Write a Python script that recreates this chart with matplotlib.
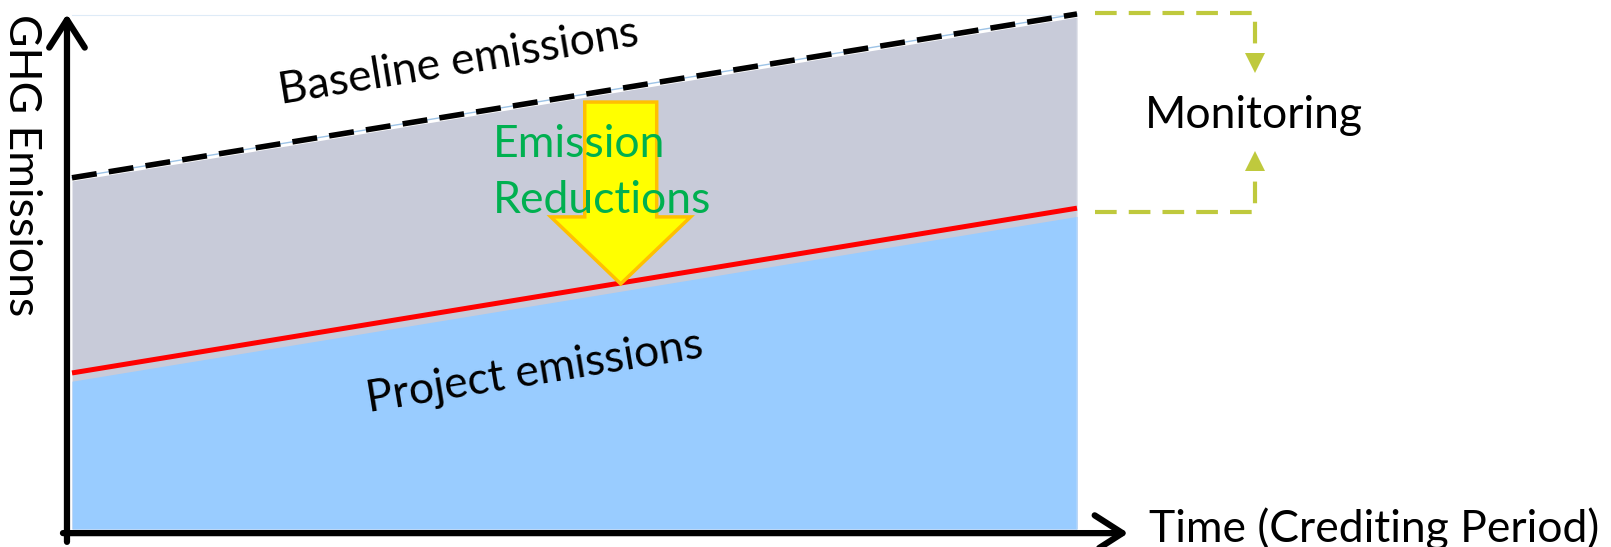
import matplotlib.pyplot as plt
from matplotlib.patches import FancyArrow

# Conceptual data: crediting period (normalised) and emission levels
period = [0.0, 1.0]
baseline = [68.2, 100.0]
project = [30.3, 62.3]

gray = '#C8CBD9'
blue = '#99CCFF'
green_txt = '#00B050'
green_dash = '#BFC93D'
font = 'Lato'
fs = 32

fig = plt.figure(figsize=(16.11, 5.47), dpi=100)
ax = fig.add_axes([72 / 1611, 18 / 547, 1005 / 1611, 515 / 547])
ax.set_xlim(0, 1)
ax.set_ylim(0, 100)
ax.axis('off')

# faint plot-area border at the top
ax.plot([0, 1], [99.8, 99.8], color='#DEEBF7', lw=0.8, clip_on=False)

# filled areas
ax.fill_between(period, 0, [b - 0.6 for b in baseline], color=gray, lw=0, zorder=1)
ax.fill_between(period, 0, [p - 1.6 for p in project], color=blue, lw=0, zorder=2)
ax.plot([1, 1], [0, baseline[1] - 0.6], color='#EEF4FA', lw=1, zorder=2)

# baseline (dashed) and project (red) lines
ax.plot(period, baseline, color='#9DC3E6', lw=1, zorder=3, clip_on=False)
ax.plot(period, baseline, color='black', lw=4, dashes=(4.5, 2.2),
        zorder=4, clip_on=False)
ax.plot(period, project, color='#FF0000', lw=3.6, zorder=4, clip_on=False,
        solid_capstyle='butt')

# emission reduction arrow
arr = FancyArrow(0.546, 82.9, 0, -35.3, width=0.0716, head_width=0.139,
                 head_length=13.0, length_includes_head=True,
                 facecolor='#FFFF00', edgecolor='#FFC000', lw=2.5, zorder=5)
ax.add_patch(arr)
ax.text(0.419, 72.2, 'Emission', color=green_txt, fontsize=fs, family=font,
        ha='left', va='baseline', zorder=6)
ax.text(0.419, 61.4, 'Reductions', color=green_txt, fontsize=fs, family=font,
        ha='left', va='baseline', zorder=6)

# labels on the areas
ax.text(0.385, 90.7, 'Baseline emissions', fontsize=fs, family=font,
        rotation=9.3, rotation_mode='anchor', ha='center', va='center')
ax.text(0.46, 30.5, 'Project emissions', fontsize=fs, family=font,
        rotation=9.3, rotation_mode='anchor', ha='center', va='center', zorder=6)

# monitoring bracket
ax.plot([1.018, 1.177, 1.177], [100.2, 100.2, 92.0], color=green_dash, lw=3,
        dashes=(5.2, 2.9), clip_on=False)
ax.plot([1.018, 1.177, 1.177], [61.6, 61.6, 70.0], color=green_dash, lw=3,
        dashes=(5.2, 2.9), clip_on=False)
ax.plot([1.177], [90.4], marker='v', ms=15, color=green_dash, mew=0, clip_on=False)
ax.plot([1.177], [71.5], marker='^', ms=15, color=green_dash, mew=0, clip_on=False)
ax.text(1.068, 77.9, 'Monitoring', fontsize=fs, family=font, ha='left', va='baseline')

# axes arrows
style = '->,head_length=0.5,head_width=0.32'
ax.annotate('', xy=(-0.005, 100.0), xytext=(-0.005, -2.5), annotation_clip=False,
            arrowprops=dict(arrowstyle=style, lw=4.5, color='black',
                            mutation_scale=40, shrinkA=0, shrinkB=0))
ax.annotate('', xy=(1.051, -0.8), xytext=(-0.009, -0.8), annotation_clip=False,
            arrowprops=dict(arrowstyle=style, lw=4.5, color='black',
                            mutation_scale=40, shrinkA=0, shrinkB=0))
ax.text(1.072, -2.5, 'Time (Crediting Period)', fontsize=fs, family=font,
        ha='left', va='baseline')
ax.text(-0.0507, 70.7, 'GHG Emissions', fontsize=fs, family=font,
        rotation=-90, ha='center', va='center')

fig.savefig('out.png', dpi=100)
